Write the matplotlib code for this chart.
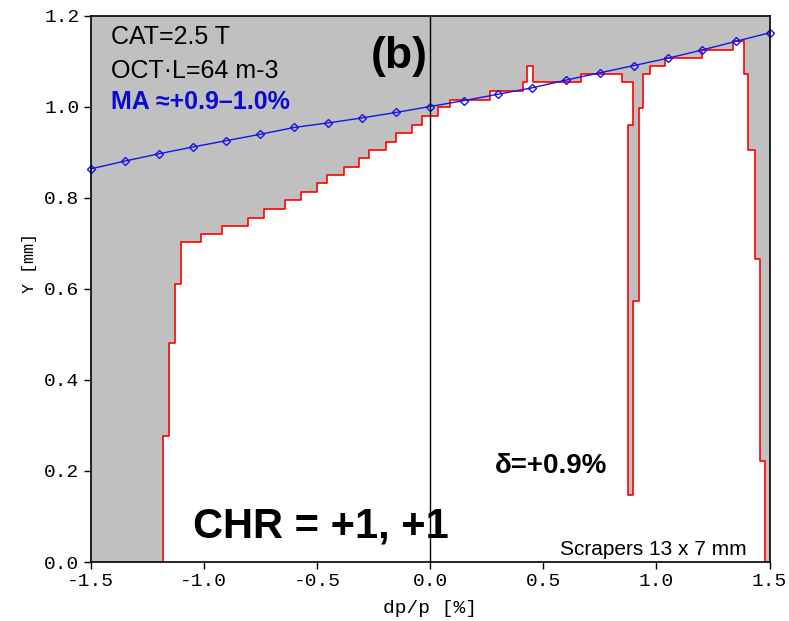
import matplotlib
matplotlib.use("Agg")
import matplotlib.pyplot as plt

plt.rcParams['axes.unicode_minus'] = False

# ---- data ----
# aperture boundary (red step line) vertices: dp/p [%], Y [mm]
ap_x = [-1.180, -1.180, -1.153, -1.153, -1.129, -1.129, -1.102, -1.102, -1.014, -1.014,
        -0.921, -0.921, -0.806, -0.806, -0.734, -0.734, -0.640, -0.640, -0.570, -0.570,
        -0.501, -0.501, -0.454, -0.454, -0.380, -0.380, -0.313, -0.313, -0.269, -0.269,
        -0.195, -0.195, -0.150, -0.150, -0.081, -0.081, -0.034, -0.034, 0.037, 0.037,
        0.086, 0.086, 0.265, 0.265, 0.410, 0.410, 0.430, 0.430, 0.456, 0.456,
        0.666, 0.666, 0.849, 0.849, 0.896, 0.896, 0.873, 0.873, 0.896, 0.896,
        0.921, 0.921, 0.943, 0.943, 0.970, 0.970, 1.039, 1.039, 1.201, 1.201,
        1.340, 1.340, 1.386, 1.386, 1.407, 1.407, 1.434, 1.434, 1.456, 1.456,
        1.481, 1.481]
ap_y = [0.000, 0.277, 0.277, 0.481, 0.481, 0.610, 0.610, 0.703, 0.703, 0.721,
        0.721, 0.739, 0.739, 0.757, 0.757, 0.776, 0.776, 0.795, 0.795, 0.814,
        0.814, 0.832, 0.832, 0.851, 0.851, 0.869, 0.869, 0.888, 0.888, 0.906,
        0.906, 0.924, 0.924, 0.943, 0.943, 0.961, 0.961, 0.980, 0.980, 0.999,
        0.999, 1.016, 1.016, 1.035, 1.035, 1.054, 1.054, 1.090, 1.090, 1.054,
        1.054, 1.072, 1.072, 1.054, 1.054, 0.960, 0.960, 0.147, 0.147, 0.574,
        0.574, 0.998, 0.998, 1.072, 1.072, 1.090, 1.090, 1.108, 1.108, 1.126,
        1.126, 1.146, 1.146, 1.072, 1.072, 0.906, 0.906, 0.665, 0.665, 0.222,
        0.222, 0.000]

# MA line (blue diamonds)
ma_x = [-1.5, -1.35, -1.2, -1.05, -0.9, -0.75, -0.6, -0.45, -0.3, -0.15, 0.0,
        0.15, 0.3, 0.45, 0.6, 0.75, 0.9, 1.05, 1.2, 1.35, 1.5]
ma_y = [0.864, 0.881, 0.897, 0.912, 0.926, 0.940, 0.955, 0.965, 0.976, 0.988, 1.001,
        1.014, 1.028, 1.042, 1.059, 1.075, 1.091, 1.107, 1.125, 1.144, 1.163]

x_ticks = [-1.5, -1.0, -0.5, 0.0, 0.5, 1.0, 1.5]
y_ticks = [0.0, 0.2, 0.4, 0.6, 0.8, 1.0, 1.2]
x_min, x_max = -1.5, 1.5
y_min, y_max = 0.0, 1.2

# ---- figure ----
fig = plt.figure(figsize=(7.89, 6.21), dpi=100)
ax = fig.add_axes([0.115, 0.095, 0.8603, 0.8793])

sans = ['Liberation Sans', 'DejaVu Sans']
mono = ['Liberation Mono', 'DejaVu Sans Mono']

# grey region above aperture
poly_x = [x_min] + ap_x + [x_max, x_max, x_min]
poly_y = [y_min] + ap_y + [y_min, y_max, y_max]
ax.fill(poly_x, poly_y, color='#c0c0c0', lw=0, zorder=1)
ax.plot(ap_x, ap_y, color='#ff0000', lw=1.2, zorder=2)

ax.plot(ma_x, ma_y, color='#1414e6', lw=1.0, marker='D', ms=4, mfc='none',
        mec='#1414e6', mew=1.0, zorder=4, clip_on=False)

ax.axvline(0.0, color='black', lw=1.0, zorder=5)

ax.set_xlim(x_min, x_max)
ax.set_ylim(y_min, y_max)
ax.set_xticks(x_ticks)
ax.set_yticks(y_ticks)
ax.set_xticklabels([f"{v:.1f}" for v in x_ticks], family=mono, fontsize=14)
ax.set_yticklabels([f"{v:.1f}" for v in y_ticks], family=mono, fontsize=14)
ax.tick_params(direction='out', length=5, width=1, pad=3)
for s in ax.spines.values():
    s.set_linewidth(1.2)
    s.set_zorder(6)

ax.set_xlabel("dp/p [%]", family=mono, fontsize=14, labelpad=7)
ax.set_ylabel("Y [mm]", family=mono, fontsize=12)
ax.yaxis.set_label_coords(-0.079, 0.548)

ax.text(-1.41, 1.153, "CAT=2.5 T", family=sans, fontsize=18, va='center', ha='left', zorder=7)
ax.text(-1.41, 1.080, "OCT\u00b7L=64 m-3", family=sans, fontsize=18, va='center', ha='left', zorder=7)
ax.text(-1.41, 1.012, "MA \u2248+0.9\u20131.0%", family=sans, fontsize=18, fontweight='bold',
        color='#0a0ad2', va='center', ha='left', zorder=7)
ax.text(-0.01, 1.110, "(b)", family=sans, fontsize=32, fontweight='bold', va='center', ha='right', zorder=7)
ax.text(-1.049, 0.053, "CHR = +1, +1", family=sans, fontsize=30, fontweight='bold',
        va='baseline', ha='left', zorder=3)
ax.text(0.287, 0.196, "\u03b4=+0.9%", family=sans, fontsize=20, fontweight='bold',
        va='baseline', ha='left', zorder=7)
ax.text(1.40, 0.015, "Scrapers 13 x 7 mm", family=sans, fontsize=15,
        va='baseline', ha='right', zorder=7)

fig.savefig("out.png", dpi=100)
